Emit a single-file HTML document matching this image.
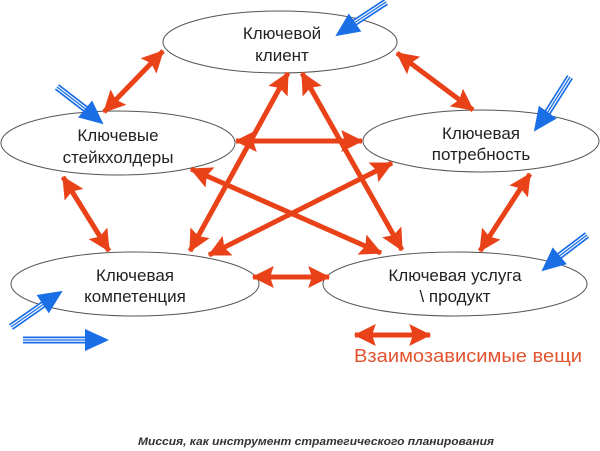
<!DOCTYPE html>
<html><head><meta charset="utf-8"><style>
html,body{margin:0;padding:0;background:#fff;}
svg{display:block;}
text{font-family:"Liberation Sans","DejaVu Sans",sans-serif;}
</style></head><body>
<svg width="600" height="451" viewBox="0 0 600 451" xmlns="http://www.w3.org/2000/svg">
<defs>
<marker id="rh" markerUnits="userSpaceOnUse" markerWidth="22" markerHeight="22" refX="17" refY="9" orient="auto-start-reverse" viewBox="0 0 18 18">
<path d="M0,0 L18,9 L0,18 L3,9 Z" fill="#ea4218"/>
</marker>
<marker id="bh" markerUnits="userSpaceOnUse" markerWidth="24" markerHeight="24" refX="22" refY="11" orient="auto" viewBox="0 0 24 22">
<path d="M0,0 L24,11 L0,22 Z" fill="#1a6ee6"/>
</marker>
</defs>
<g fill="#fff" stroke="#555" stroke-width="1">
<ellipse cx="280" cy="42" rx="117" ry="31"/>
<ellipse cx="118" cy="143" rx="117" ry="32"/>
<ellipse cx="481" cy="141" rx="118" ry="31"/>
<ellipse cx="135" cy="284" rx="124" ry="32"/>
<ellipse cx="455" cy="284" rx="132" ry="32"/>
</g>
<g stroke="#ea4218" stroke-width="5" fill="none" marker-start="url(#rh)" marker-end="url(#rh)">
<line x1="163" y1="51" x2="104" y2="112"/>
<line x1="397" y1="53" x2="473" y2="110"/>
<line x1="63" y1="177" x2="109" y2="251"/>
<line x1="530" y1="174" x2="480" y2="251"/>
<line x1="253" y1="277" x2="329" y2="277"/>
<line x1="236" y1="141" x2="362" y2="141"/>
<line x1="288" y1="73" x2="190" y2="251"/>
<line x1="302" y1="73" x2="402" y2="250"/>
<line x1="191" y1="169" x2="381" y2="253"/>
<line x1="392" y1="163" x2="209" y2="255"/>
<line x1="355" y1="335" x2="430" y2="335"/>
</g>
<g font-size="17" fill="#222" text-anchor="middle">
<text x="282" y="39">Ключевой</text>
<text x="282" y="61">клиент</text>
<text x="118" y="141">Ключевые</text>
<text x="118" y="163">стейкхолдеры</text>
<text x="481" y="139">Ключевая</text>
<text x="481" y="160">потребность</text>
<text x="135" y="281">Ключевая</text>
<text x="135" y="302">компетенция</text>
<text x="455" y="281">Ключевая услуга</text>
<text x="455" y="302">\ продукт</text>
</g>
<text x="354" y="362" font-size="18" fill="#e2532e" textLength="228" lengthAdjust="spacingAndGlyphs">Взаимозависимые вещи</text>
<text x="316" y="445" font-size="11" font-style="italic" font-weight="bold" fill="#333" text-anchor="middle" textLength="356" lengthAdjust="spacingAndGlyphs">Миссия, как инструмент стратегического планирования</text>
<g fill="none">
<g stroke="#1a6ee6" stroke-width="7">
<line x1="386" y1="2" x2="348" y2="27"/>
<line x1="57" y1="87" x2="92" y2="114"/>
<line x1="570" y1="77" x2="544" y2="118"/>
<line x1="587" y1="235" x2="554" y2="260"/>
<line x1="11" y1="327" x2="51" y2="299"/>
<line x1="23" y1="340" x2="86" y2="340"/>
</g>
<g stroke="#fff" stroke-width="3.6">
<line x1="386" y1="2" x2="348" y2="27"/>
<line x1="57" y1="87" x2="92" y2="114"/>
<line x1="570" y1="77" x2="544" y2="118"/>
<line x1="587" y1="235" x2="554" y2="260"/>
<line x1="11" y1="327" x2="51" y2="299"/>
<line x1="23" y1="340" x2="86" y2="340"/>
</g>
<g stroke="#1a6ee6" stroke-width="1.3">
<line x1="386" y1="2" x2="348" y2="27"/>
<line x1="57" y1="87" x2="92" y2="114"/>
<line x1="570" y1="77" x2="544" y2="118"/>
<line x1="587" y1="235" x2="554" y2="260"/>
<line x1="11" y1="327" x2="51" y2="299"/>
<line x1="23" y1="340" x2="86" y2="340"/>
</g>
<g stroke="#1a6ee6" stroke-width="1" marker-end="url(#bh)">
<line x1="350" y1="26" x2="337" y2="35"/>
<line x1="90" y1="113" x2="102" y2="123"/>
<line x1="545" y1="116" x2="535" y2="130"/>
<line x1="556" y1="259" x2="543" y2="270"/>
<line x1="49" y1="300" x2="61" y2="292"/>
<line x1="84" y1="340" x2="107" y2="340"/>
</g>
</g>
</svg>
</body></html>
